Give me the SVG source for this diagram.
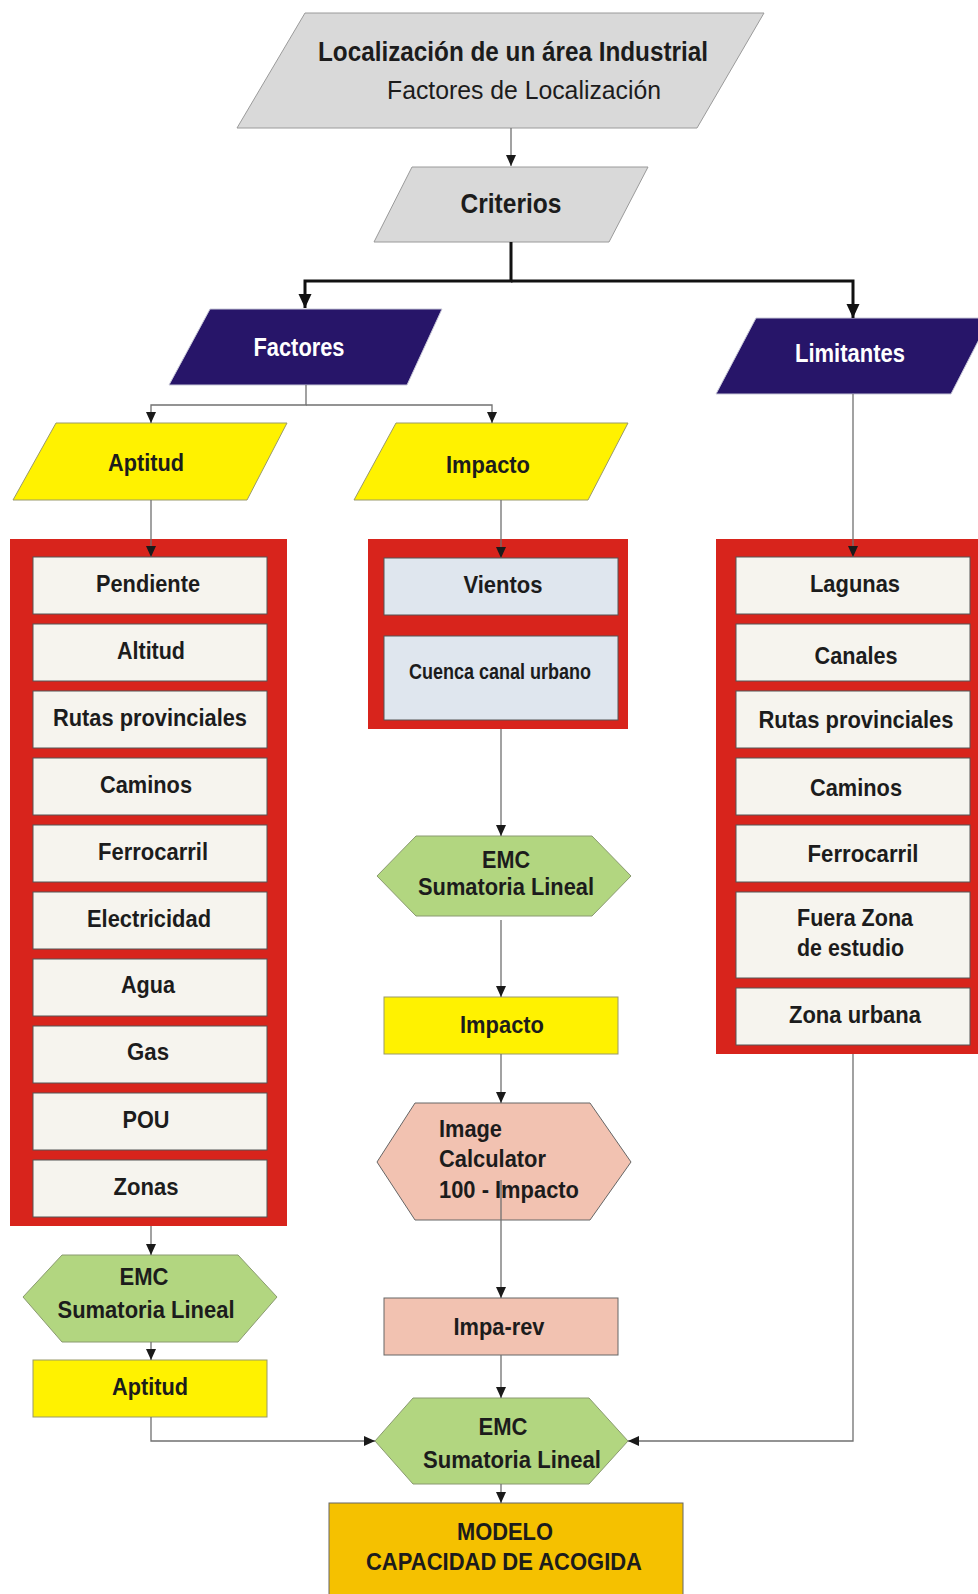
<svg xmlns="http://www.w3.org/2000/svg" width="978" height="1594" viewBox="0 0 978 1594">
<defs>
<style>
.t{font-family:"Liberation Sans",Arial,sans-serif;font-weight:bold;font-size:24.5px;fill:#1c1c1c;text-anchor:middle}
.s{text-anchor:start}
.r{font-weight:normal}
.w{fill:#ffffff}
.gray{fill:#d9d9d9;stroke:#9a9a9a;stroke-width:1}
.navy{fill:#271569;stroke:#c8c8d8;stroke-width:1}
.yel{fill:#fff200;stroke:#9a9a6a;stroke-width:1}
.red{fill:#d8241c}
.box{fill:#f6f4ee;stroke:#555;stroke-width:1}
.blue{fill:#dfe6ee;stroke:#555;stroke-width:1}
.green{fill:#b2d680;stroke:#8a9a70;stroke-width:1}
.pink{fill:#f2c2b1;stroke:#666;stroke-width:1}
.orange{fill:#f5c100;stroke:#666;stroke-width:1}
.c{fill:none;stroke:#707070;stroke-width:1.3}
.ck{fill:none;stroke:#111;stroke-width:3}
</style>
<marker id="a" markerUnits="userSpaceOnUse" markerWidth="12" markerHeight="12" refX="11" refY="5" orient="auto"><path d="M0,0 L11,5 L0,10 z" fill="#1a1a1a"/></marker>
<marker id="ak" markerUnits="userSpaceOnUse" markerWidth="16" markerHeight="16" refX="14" refY="6.5" orient="auto"><path d="M0,0 L14,6.5 L0,13 z" fill="#111"/></marker>
</defs>
<rect width="978" height="1594" fill="#ffffff"/>

<g id="title">
<polygon class="gray" points="305,13 764,13 697,128 237,128"/>
<text class="t" x="513" y="61" style="font-size:28px" textLength="390" lengthAdjust="spacingAndGlyphs">Localización de un área Industrial</text>
<text class="t r" x="524" y="99" style="font-size:26px" textLength="274" lengthAdjust="spacingAndGlyphs">Factores de Localización</text>
</g>
<g id="criterios">
<polygon class="gray" points="412,167 648,167 609,242 374,242"/>
<text class="t" x="511" y="213" style="font-size:27px" textLength="101" lengthAdjust="spacingAndGlyphs">Criterios</text>
</g>
<g id="factores">
<polygon class="navy" points="210,309 442,309 407,385 169,385"/>
<text class="t w" x="299" y="356" style="font-size:26px" textLength="91" lengthAdjust="spacingAndGlyphs">Factores</text>
</g>
<g id="limitantes">
<polygon class="navy" points="756,318 990,318 951,394 716,394"/>
<text class="t w" x="850" y="362" style="font-size:26px" textLength="110" lengthAdjust="spacingAndGlyphs">Limitantes</text>
</g>
<g id="aptitud-in">
<polygon class="yel" points="56,423 287,423 247,500 13,500"/>
<text class="t" x="146" y="471" textLength="76" lengthAdjust="spacingAndGlyphs">Aptitud</text>
</g>
<g id="impacto-in">
<polygon class="yel" points="396,423 628,423 588,500 354,500"/>
<text class="t" x="488" y="473" textLength="84" lengthAdjust="spacingAndGlyphs">Impacto</text>
</g>

<g id="aptitud-factores">
<rect class="red" x="10" y="539" width="277" height="687"/>
<rect class="box" x="33" y="557" width="234" height="57"/><text class="t" x="148" y="592" textLength="104" lengthAdjust="spacingAndGlyphs">Pendiente</text>
<rect class="box" x="33" y="624" width="234" height="57"/><text class="t" x="151" y="659" textLength="68" lengthAdjust="spacingAndGlyphs">Altitud</text>
<rect class="box" x="33" y="691" width="234" height="57"/><text class="t" x="150" y="726" textLength="194" lengthAdjust="spacingAndGlyphs">Rutas provinciales</text>
<rect class="box" x="33" y="758" width="234" height="57"/><text class="t" x="146" y="793" textLength="92" lengthAdjust="spacingAndGlyphs">Caminos</text>
<rect class="box" x="33" y="825" width="234" height="57"/><text class="t" x="153" y="860" textLength="110" lengthAdjust="spacingAndGlyphs">Ferrocarril</text>
<rect class="box" x="33" y="892" width="234" height="57"/><text class="t" x="149" y="927" textLength="124" lengthAdjust="spacingAndGlyphs">Electricidad</text>
<rect class="box" x="33" y="959" width="234" height="57"/><text class="t" x="148" y="993" textLength="54" lengthAdjust="spacingAndGlyphs">Agua</text>
<rect class="box" x="33" y="1026" width="234" height="57"/><text class="t" x="148" y="1060" textLength="42" lengthAdjust="spacingAndGlyphs">Gas</text>
<rect class="box" x="33" y="1093" width="234" height="57"/><text class="t" x="146" y="1128" textLength="47" lengthAdjust="spacingAndGlyphs">POU</text>
<rect class="box" x="33" y="1160" width="234" height="57"/><text class="t" x="146" y="1195" textLength="65" lengthAdjust="spacingAndGlyphs">Zonas</text>
</g>

<g id="impacto-factores">
<rect class="red" x="368" y="539" width="260" height="190"/>
<rect class="blue" x="384" y="558" width="234" height="57"/><text class="t" x="503" y="593" textLength="79" lengthAdjust="spacingAndGlyphs">Vientos</text>
<rect class="blue" x="384" y="636" width="234" height="84"/><text class="t" x="500" y="679" style="font-size:22px" textLength="182" lengthAdjust="spacingAndGlyphs">Cuenca canal urbano</text>
</g>

<g id="limitantes-lista">
<rect class="red" x="716" y="539" width="270" height="515"/>
<rect class="box" x="736" y="557" width="234" height="57"/><text class="t" x="855" y="592" textLength="90" lengthAdjust="spacingAndGlyphs">Lagunas</text>
<rect class="box" x="736" y="624" width="234" height="57"/><text class="t" x="856" y="664" textLength="83" lengthAdjust="spacingAndGlyphs">Canales</text>
<rect class="box" x="736" y="691" width="234" height="57"/><text class="t" x="856" y="728" textLength="195" lengthAdjust="spacingAndGlyphs">Rutas provinciales</text>
<rect class="box" x="736" y="758" width="234" height="57"/><text class="t" x="856" y="796" textLength="92" lengthAdjust="spacingAndGlyphs">Caminos</text>
<rect class="box" x="736" y="825" width="234" height="57"/><text class="t" x="863" y="862" textLength="111" lengthAdjust="spacingAndGlyphs">Ferrocarril</text>
<rect class="box" x="736" y="892" width="234" height="86"/><text class="t s" x="797" y="926" textLength="116" lengthAdjust="spacingAndGlyphs">Fuera Zona</text><text class="t s" x="797" y="956" textLength="107" lengthAdjust="spacingAndGlyphs">de estudio</text>
<rect class="box" x="736" y="988" width="234" height="57"/><text class="t" x="855" y="1023" textLength="132" lengthAdjust="spacingAndGlyphs">Zona urbana</text>
</g>

<g id="emc-impacto">
<polygon class="green" points="377,876 416,836 592,836 631,876 592,916 416,916"/>
<text class="t" x="506" y="868" textLength="48" lengthAdjust="spacingAndGlyphs">EMC</text>
<text class="t" x="506" y="895" textLength="176" lengthAdjust="spacingAndGlyphs">Sumatoria Lineal</text>
</g>
<g id="impacto-res">
<rect class="yel" x="384" y="997" width="234" height="57"/>
<text class="t" x="502" y="1033" textLength="84" lengthAdjust="spacingAndGlyphs">Impacto</text>
</g>
<g id="image-calc">
<polygon class="pink" points="377,1162 415,1103 590,1103 631,1162 590,1220 415,1220"/>
<text class="t s" x="439" y="1137" textLength="63" lengthAdjust="spacingAndGlyphs">Image</text>
<text class="t s" x="439" y="1167" textLength="107" lengthAdjust="spacingAndGlyphs">Calculator</text>
<text class="t s" x="439" y="1198" textLength="140" lengthAdjust="spacingAndGlyphs">100 - Impacto</text>
</g>
<g id="impa-rev">
<rect class="pink" x="384" y="1298" width="234" height="57"/>
<text class="t" x="499" y="1335" textLength="91" lengthAdjust="spacingAndGlyphs">Impa-rev</text>
</g>
<g id="emc-aptitud">
<polygon class="green" points="23,1297 62,1255 238,1255 277,1297 238,1342 62,1342"/>
<text class="t" x="144" y="1285" textLength="49" lengthAdjust="spacingAndGlyphs">EMC</text>
<text class="t" x="146" y="1318" textLength="177" lengthAdjust="spacingAndGlyphs">Sumatoria Lineal</text>
</g>
<g id="aptitud-res">
<rect class="yel" x="33" y="1360" width="234" height="57"/>
<text class="t" x="150" y="1395" textLength="76" lengthAdjust="spacingAndGlyphs">Aptitud</text>
</g>
<g id="emc-final">
<polygon class="green" points="375,1441 413,1398 589,1398 628,1441 589,1484 413,1484"/>
<text class="t" x="503" y="1435" textLength="49" lengthAdjust="spacingAndGlyphs">EMC</text>
<text class="t" x="512" y="1468" textLength="178" lengthAdjust="spacingAndGlyphs">Sumatoria Lineal</text>
</g>
<g id="modelo">
<rect class="orange" x="329" y="1503" width="354" height="100"/>
<text class="t" x="505" y="1540" textLength="96" lengthAdjust="spacingAndGlyphs">MODELO</text>
<text class="t" x="504" y="1570" textLength="276" lengthAdjust="spacingAndGlyphs">CAPACIDAD DE ACOGIDA</text>
</g>

<g id="connectors">
<path class="c" d="M511,128 V166" marker-end="url(#a)"/>
<path class="ck" d="M511,242 V281 H305 V308" marker-end="url(#ak)"/>
<path class="ck" d="M511,281 H853 V318" marker-end="url(#ak)"/>
<path class="c" d="M306,385 V405 H151 V423" marker-end="url(#a)"/>
<path class="c" d="M306,405 H492 V423" marker-end="url(#a)"/>
<path class="c" d="M151,500 V557" marker-end="url(#a)"/>
<path class="c" d="M501,500 V558" marker-end="url(#a)"/>
<path class="c" d="M853,394 V557" marker-end="url(#a)"/>
<path class="c" d="M501,729 V836" marker-end="url(#a)"/>
<path class="c" d="M501,920 V997" marker-end="url(#a)"/>
<path class="c" d="M501,1054 V1103" marker-end="url(#a)"/>
<path class="c" d="M501,1180 V1298" marker-end="url(#a)"/>
<path class="c" d="M501,1355 V1398" marker-end="url(#a)"/>
<path class="c" d="M501,1484 V1503" marker-end="url(#a)"/>
<path class="c" d="M151,1226 V1255" marker-end="url(#a)"/>
<path class="c" d="M151,1342 V1360" marker-end="url(#a)"/>
<path class="c" d="M151,1417 V1441 H375" marker-end="url(#a)"/>
<path class="c" d="M853,1054 V1441 H628" marker-end="url(#a)"/>
</g>
</svg>
